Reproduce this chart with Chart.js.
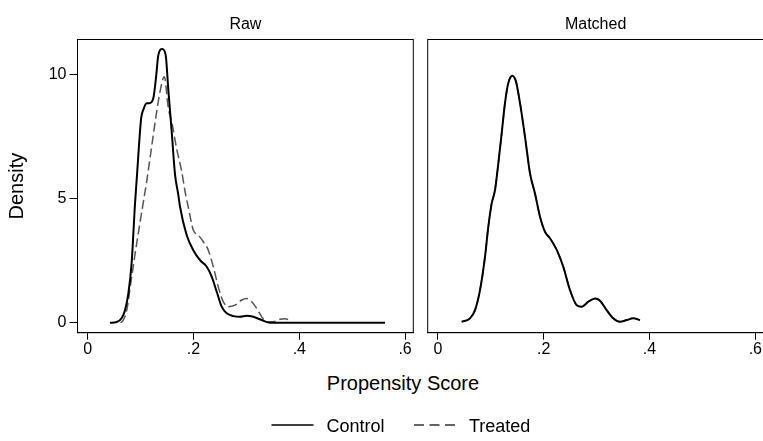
<!DOCTYPE html>
<html>
<head>
<meta charset="utf-8">
<script src="https://cdn.jsdelivr.net/npm/chart.js@4.4.1/dist/chart.umd.min.js"></script>
<style>
html,body{margin:0;padding:0;background:#fff;width:763px;height:441px;overflow:hidden;}
#wrap{position:relative;width:763px;height:441px;overflow:hidden;font-family:"Liberation Sans",Arial,Helvetica,sans-serif;color:#000;}
canvas{position:absolute;top:0;}
#c1{left:0;}
#c2{left:420px;}
.txt{position:absolute;white-space:nowrap;}
#xtitle{left:403px;top:370.5px;transform:translateX(-50%);font-size:20px;line-height:24px;}
#lg1{left:326.5px;top:414.5px;font-size:18px;line-height:22px;}
#lg2{left:469px;top:414.5px;font-size:18px;line-height:22px;}
#lgsvg{position:absolute;left:0;top:0;}
</style>
</head>
<body>
<div id="wrap">
  <canvas id="c1" width="420" height="360"></canvas>
  <canvas id="c2" width="350" height="360"></canvas>
  <div class="txt" id="xtitle">Propensity Score</div>
  <svg id="lgsvg" width="763" height="441">
    <line x1="271.5" y1="425" x2="313.5" y2="425" stroke="#000" stroke-width="1.6"/>
    <line x1="414" y1="425" x2="456" y2="425" stroke="#333" stroke-width="1.6" stroke-dasharray="10,5.5"/>
  </svg>
  <div class="txt" id="lg1">Control</div>
  <div class="txt" id="lg2">Treated</div>
</div>
<script>
// ---- data ----
const panelTitles = ["Raw", "Matched"];
const seriesNames = ["Control", "Treated"];
const xTicks = [0, 0.2, 0.4, 0.6];
const xTickLabels = ["0", ".2", ".4", ".6"];
const yTicks = [0, 5, 10];
const yTickLabels = ["0", "5", "10"];

const rawControlX = [0.042, 0.055, 0.064, 0.0705, 0.0768, 0.083, 0.0894, 0.093, 0.097, 0.101, 0.105, 0.1115, 0.1165, 0.124, 0.129, 0.1335, 0.141, 0.1474, 0.1524, 0.1588, 0.165, 0.1713, 0.1745, 0.187, 0.1996, 0.2123, 0.225, 0.2344, 0.2439, 0.2533, 0.2628, 0.2753, 0.2879, 0.3006, 0.313, 0.329, 0.3446, 0.40, 0.48, 0.562];
const rawControlY = [0, 0.03, 0.18, 0.51, 1.18, 2.4, 4.8, 5.9, 7.17, 8.25, 8.59, 8.86, 8.86, 9.06, 9.87, 10.8, 11.05, 10.8, 9.4, 7.7, 6.0, 5.16, 4.68, 3.54, 2.93, 2.53, 2.26, 1.86, 1.25, 0.65, 0.38, 0.27, 0.24, 0.28, 0.24, 0.11, 0, 0, 0, 0];

const rawTreatedX = [0.062, 0.0673, 0.0737, 0.0813, 0.089, 0.097, 0.105, 0.1115, 0.1178, 0.124, 0.1304, 0.1367, 0.1448, 0.1524, 0.1588, 0.168, 0.1777, 0.1852, 0.19, 0.1996, 0.209, 0.2185, 0.228, 0.2374, 0.2469, 0.2563, 0.2658, 0.2784, 0.2911, 0.3006, 0.31, 0.3195, 0.329, 0.3384, 0.3508, 0.3635, 0.373, 0.3824];
const rawTreatedY = [0, 0.11, 0.5, 1.58, 2.7, 3.8, 4.85, 5.7, 6.64, 7.58, 8.52, 9.33, 9.93, 8.66, 8.11, 7.04, 6.1, 5.16, 4.68, 3.74, 3.54, 3.27, 2.93, 2.26, 1.45, 0.85, 0.65, 0.71, 0.92, 0.98, 0.85, 0.58, 0.24, 0.04, 0.04, 0.14, 0.16, 0.11];

const matchedX = [0.045, 0.0607, 0.0701, 0.0796, 0.089, 0.0953, 0.1017, 0.108, 0.1142, 0.1206, 0.1268, 0.1331, 0.1407, 0.1476, 0.1552, 0.1646, 0.1741, 0.1835, 0.193, 0.2025, 0.2119, 0.2246, 0.237, 0.2497, 0.2624, 0.2718, 0.2843, 0.297, 0.3064, 0.319, 0.3316, 0.3442, 0.3569, 0.3694, 0.382];
const matchedY = [0.04, 0.18, 0.51, 1.32, 2.66, 3.88, 4.82, 5.36, 6.43, 7.65, 8.86, 9.67, 9.97, 9.73, 8.86, 7.51, 6.03, 5.22, 4.28, 3.67, 3.41, 2.94, 2.26, 1.32, 0.71, 0.65, 0.85, 0.98, 0.89, 0.51, 0.18, 0.04, 0.11, 0.18, 0.11];

// ---- helpers ----
const FONT = '"Liberation Sans", Arial, Helvetica, sans-serif';
Chart.defaults.font.family = FONT;
Chart.defaults.color = '#000';

function pts(xs, ys) { return xs.map((x, i) => ({ x: x, y: ys[i] })); }

const boxPlugin = {
  id: 'panelBox',
  afterDraw(chart, args, opts) {
    const a = chart.chartArea, ctx = chart.ctx;
    ctx.save();
    ctx.strokeStyle = '#000';
    ctx.lineWidth = 1;
    ctx.strokeRect(a.left, a.top, a.right - a.left, a.bottom - a.top);
    ctx.fillStyle = '#000';
    ctx.font = '16px ' + FONT;
    ctx.textAlign = 'center';
    ctx.textBaseline = 'middle';
    ctx.fillText(opts.text, (a.left + a.right) / 2, 25);
    ctx.restore();
  }
};

function xScale() {
  return {
    type: 'linear', min: -0.0193, max: 0.6155,
    afterBuildTicks: s => { s.ticks = xTicks.map(v => ({ value: v })); },
    afterFit: s => { s.height = 27.3; },
    ticks: { callback: (v, i) => xTickLabels[i], font: { size: 16 }, color: '#000', padding: 0, maxRotation: 0, autoSkip: false },
    grid: { display: true, drawOnChartArea: false, drawTicks: true, tickLength: 7, color: '#000', lineWidth: 1 },
    border: { display: true, color: '#000', width: 1 }
  };
}

function makeChart(id, datasets, showY, padding, title) {
  const yScale = {
    type: 'linear', min: -0.40, max: 11.43,
    display: showY,
    afterBuildTicks: s => { s.ticks = yTicks.map(v => ({ value: v })); },
    ticks: { callback: (v, i) => yTickLabels[i], font: { size: 16 }, color: '#000', padding: 3 },
    grid: { display: true, drawOnChartArea: false, drawTicks: true, tickLength: 8, color: '#000', lineWidth: 1 },
    border: { display: true, color: '#000', width: 1 },
    title: { display: true, text: 'Density', font: { size: 20 }, color: '#000', padding: { top: 5.5, bottom: 0 } }
  };
  if (showY) yScale.afterFit = s => { s.width = 77.5; };
  return new Chart(document.getElementById(id), {
    type: 'line',
    data: { datasets: datasets },
    options: {
      responsive: false, animation: false,
      layout: { padding: padding },
      scales: { x: xScale(), y: yScale },
      plugins: { legend: { display: false }, tooltip: { enabled: false }, panelBox: { text: title } },
      elements: { point: { radius: 0 } }
    },
    plugins: [boxPlugin]
  });
}

function controlDs(xs, ys) {
  return { label: seriesNames[0], data: pts(xs, ys), borderColor: '#000', borderWidth: 2, pointRadius: 0, cubicInterpolationMode: 'monotone', fill: false };
}
function treatedDs(xs, ys) {
  return { label: seriesNames[1], data: pts(xs, ys), borderColor: '#555', borderWidth: 1.5, borderDash: [9, 4], pointRadius: 0, cubicInterpolationMode: 'monotone', fill: false };
}

makeChart('c1', [controlDs(rawControlX, rawControlY), treatedDs(rawTreatedX, rawTreatedY)], true,
  { left: 0, top: 39.5, right: 6.7, bottom: 0 }, panelTitles[0]);
makeChart('c2', [controlDs(matchedX, matchedY), treatedDs(matchedX, matchedY)], false,
  { left: 7.7, top: 39.5, right: 6.5, bottom: 0 }, panelTitles[1]);
</script>
</body>
</html>
